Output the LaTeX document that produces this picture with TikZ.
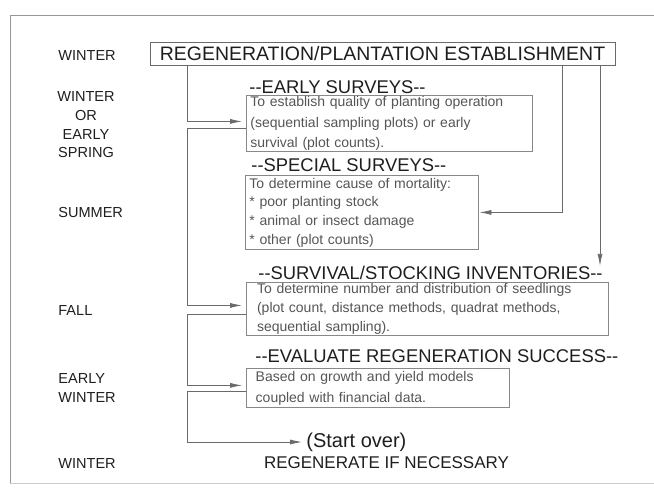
\documentclass[tikz,border=0pt]{standalone}
\usepackage{fontspec}
\setmainfont{Liberation Sans}
\usepackage{xcolor}
\usetikzlibrary{arrows.meta}
\definecolor{inkdark}{HTML}{1E1E1E}
\definecolor{inkbody}{HTML}{555555}
\definecolor{rule}{HTML}{6A6A6A}

\begin{document}
\begin{tikzpicture}[x=0.75pt, y=-0.75pt, line width=0.6pt,
    season/.style={anchor=west, inner sep=0pt, text=inkdark, font=\fontsize{10.9}{14}\selectfont},
    heading/.style={anchor=west, inner sep=0pt, text=inkdark, font=\fontsize{13.8}{16}\selectfont},
    survey/.style={draw=rule!80, anchor=north west, align=left, inner ysep=0pt, inner xsep=3pt, text=inkbody, font=\fontsize{10.5}{14}\selectfont},
    arr/.style={rule, -{Latex[length=9pt,width=3.8pt]}, shorten >=3pt}]
        \useasboundingbox (0,0) rectangle (654,487);
        \draw[rule!70] (654,15) -- (10,15) -- (10,483);
        \draw[rule!35] (10,483) -- (654,483);

        \node[season] (winter) at (58,55) {WINTER};
        \node[season, anchor=center, align=center, font=\fontsize{10.9}{14}\selectfont] (spring) at (86,125) {WINTER\\OR\\EARLY\\SPRING};
        \node[season] (summer) at (58,212) {SUMMER};
        \node[season] (fall) at (58,310) {FALL};
        \node[season, align=left, font=\fontsize{10.9}{14.25}\selectfont] (earlywinter) at (58,387.5) {EARLY\\WINTER};
        \node[season] (winteragain) at (58,463) {WINTER};

        \node[draw=rule, inner sep=0pt, minimum width=348.75pt, minimum height=17.25pt, text=inkdark, font=\fontsize{14.6}{17}\selectfont] (establish) at (382.5,53.5) {REGENERATION/PLANTATION ESTABLISHMENT};

        \node[heading] (earlytitle) at (249,87) {{-}{-}EARLY SURVEYS{-}{-}};
        \node[survey, text width=208.5pt, minimum height=42pt, font=\fontsize{10.5}{15.4}\selectfont] (early) at (246,95)
            {To establish quality of planting operation\\(sequential sampling plots) or early\\survival (plot counts).};

        \node[heading] (specialtitle) at (251,165) {{-}{-}SPECIAL SURVEYS{-}{-}};
        \node[survey, text width=168.75pt, minimum height=55.5pt] (special) at (245,175)
            {To determine cause of mortality:\\{*} poor planting stock\\{*} animal or insect damage\\{*} other (plot counts)};

        \node[heading] (survtitle) at (258,273) {{-}{-}SURVIVAL/STOCKING INVENTORIES{-}{-}};
        \node[survey, inner xsep=8pt, text width=255.5pt, minimum height=39.75pt, font=\fontsize{10.5}{13.9}\selectfont] (survival) at (246,282)
            {To determine number and distribution of seedlings\\(plot count, distance methods, quadrat methods,\\sequential sampling).};

        \node[heading] (evaltitle) at (255,356) {{-}{-}EVALUATE REGENERATION SUCCESS{-}{-}};
        \node[survey, inner xsep=7pt, text width=183.25pt, minimum height=29.25pt, font=\fontsize{10.5}{15.75}\selectfont] (evaluate) at (246,368)
            {Based on growth and yield models\\coupled with financial data.};

        \node[anchor=west, inner sep=0pt, text=inkdark, font=\fontsize{15}{18}\selectfont] (over) at (306,442) {(Start over)};
        \node[inner sep=0pt, text=inkdark, font=\fontsize{12.75}{15}\selectfont] (regen) at (386.5,463) {REGENERATE IF NECESSARY};

        \coordinate (spine) at (187,0);
        \coordinate (drop) at (562,0);
        \coordinate (feed) at (600,0);

        \draw[arr] (establish.south -| spine) |- ([yshift=1.5pt]early.west);
        \draw[arr] ([yshift=-3.75pt]early.west) -| ([yshift=2.6pt]spine |- survival.west) -- ([yshift=2.6pt]survival.west);
        \draw[arr] ([yshift=-4.1pt]survival.west) -| ([yshift=1.9pt]spine |- evaluate.west) -- ([yshift=1.9pt]evaluate.west);
        \draw[arr] ([yshift=-2.6pt]evaluate.west) -| (spine |- over.west) -- (over.west);
        \draw[arr, shorten >=0.5pt] (establish.south -| drop) |- (special.east);
        \draw[arr, shorten >=0pt] (establish.south -| feed) -- (survtitle.north -| feed);
      \end{tikzpicture}
\end{document}
